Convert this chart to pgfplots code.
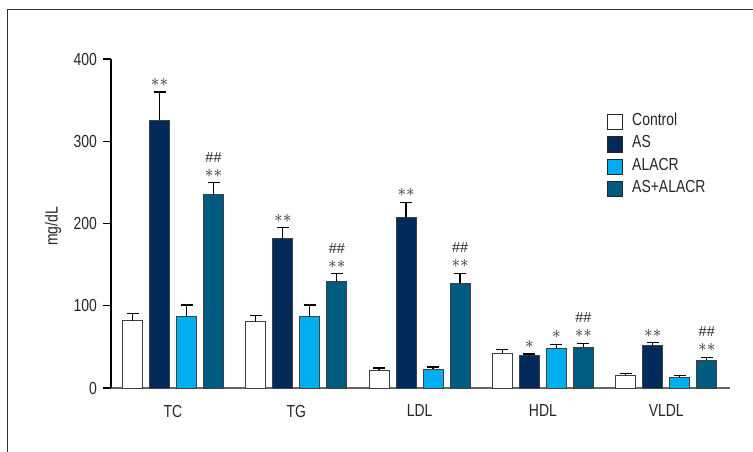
\documentclass[border=0pt]{standalone}
\usepackage{pgfplots}
\pgfplotsset{compat=1.18}
\usepackage{pgfplotstable}
\usepackage{fontspec}
\setmainfont{Liberation Sans}[FakeStretch=0.8]
\newfontfamily\plainfont{Liberation Sans}
\definecolor{txt}{HTML}{262626}
\definecolor{cAS}{HTML}{002A5A}
\definecolor{cAL}{HTML}{00AEEF}
\definecolor{cASAL}{HTML}{005B80}
\definecolor{edge}{HTML}{404040}
\pgfplotstableread{
x ctrl ctrlE as asE alacr alacrE asal asalE
0 81.8 8.5 325.8 34.1 86.7 14.2 235.5 14.1
1 80.6 7.3 181.2 13.7 86.7 14.2 128.9 10.1
2 21.5 2.8 207.9 17.9 23.1 2.4 127.2 12.2
3 42.1 4.9 39.3 2.0 48.6 4.5 49.8 4.5
4 15.8 2.0 51.5 3.6 13.0 2.0 34.0 3.3
}\datatable
\begin{document}
\fontsize{17.5}{20}\selectfont
\begin{tikzpicture}
\path[use as bounding box] (-111bp,-64bp) rectangle (642bp,388bp);
\draw[line width=1bp, black!80] (-103bp,-70bp) -- (-103bp,378bp) -- (650bp,378bp);
\begin{axis}[
  scale only axis, width=619bp, height=329bp,
  xmin=-0.503, xmax=4.517, ymin=0, ymax=400,
  ybar=7bp, bar width=20bp,
  axis x line*=bottom, axis y line*=left,
  x axis line style={line width=2bp, black!60},
  y axis line style={line width=1.2bp, black},
  xtick={0,1,2,3,4}, xticklabels={TC,TG,LDL,HDL,VLDL},
  xtick style={draw=none},
  xticklabel style={anchor=center, yshift=-15bp, text=txt},
  ytick={0,100,200,300,400},
  ytick style={line width=1.2bp, black},
  tick align=outside, major tick length=8bp,
  yticklabel style={text=txt},
  /pgf/number format/assume math mode=true,
  ylabel={mg/dL},
  ylabel style={at={(axis description cs:-0.0937,0.491)}, anchor=center, text=txt},
  font=\fontsize{17.5}{20}\selectfont,
  every axis plot post/.append style={
    legend image code/.code={\draw[##1, line width=1.2bp, draw=txt] (0bp,-7.5bp) rectangle (15bp,7.5bp);}},
  legend style={at={(axis description cs:0.801,0.833)}, anchor=north west,
    draw=none, fill=none, inner sep=0pt, row sep=6bp,
    nodes={inner sep=0pt, text height=11bp, text depth=4bp, text=txt},
    /tikz/every odd column/.append style={column sep=9bp}},
  legend cell align=left,
  clip=false,
  error bars/y dir=plus, error bars/y explicit,
  error bars/error bar style={line width=1.3bp, black},
  error bars/error mark options={rotate=90, mark size=6bp, line width=1.3bp, black},
]
\addplot[fill=white, draw=edge, line width=1bp] table[x=x, y=ctrl, y error=ctrlE] {\datatable};
\addplot[fill=cAS, draw=edge, line width=1bp] table[x=x, y=as, y error=asE] {\datatable};
\addplot[fill=cAL, draw=edge, line width=1bp] table[x=x, y=alacr, y error=alacrE] {\datatable};
\addplot[fill=cASAL, draw=edge, line width=1bp] table[x=x, y=asal, y error=asalE] {\datatable};
\legend{Control, AS, ALACR, AS+ALACR}
\tikzset{st/.style={inner sep=0pt, anchor=center, text=txt, yshift=9.5bp, font=\fontsize{19}{19}\selectfont},
         hs/.style={inner sep=0pt, anchor=center, text=txt, yshift=25.5bp, font=\plainfont\fontsize{14.5}{14.5}\selectfont}}
% AS (shift -13.5bp), ALACR (+13.5bp), AS+ALACR (+40.5bp)
\node[st, xshift=-13.5bp] at (axis cs:0,359.9) {$\ast\ast$};
\node[st, xshift=40.5bp] at (axis cs:0,249.6) {$\ast\ast$};
\node[hs, xshift=40.5bp] at (axis cs:0,249.6) {\#\#};
\node[st, xshift=-13.5bp] at (axis cs:1,194.9) {$\ast\ast$};
\node[st, xshift=40.5bp] at (axis cs:1,139.0) {$\ast\ast$};
\node[hs, xshift=40.5bp] at (axis cs:1,139.0) {\#\#};
\node[st, xshift=-13.5bp] at (axis cs:2,225.8) {$\ast\ast$};
\node[st, xshift=40.5bp] at (axis cs:2,139.4) {$\ast\ast$};
\node[hs, xshift=40.5bp] at (axis cs:2,139.4) {\#\#};
\node[st, xshift=-13.5bp] at (axis cs:3,41.3) {$\ast$};
\node[st, xshift=13.5bp] at (axis cs:3,53.1) {$\ast$};
\node[st, xshift=40.5bp] at (axis cs:3,54.3) {$\ast\ast$};
\node[hs, xshift=40.5bp] at (axis cs:3,54.3) {\#\#};
\node[st, xshift=-13.5bp] at (axis cs:4,55.1) {$\ast\ast$};
\node[st, xshift=40.5bp] at (axis cs:4,37.3) {$\ast\ast$};
\node[hs, xshift=40.5bp] at (axis cs:4,37.3) {\#\#};
\end{axis}
\end{tikzpicture}
\end{document}
